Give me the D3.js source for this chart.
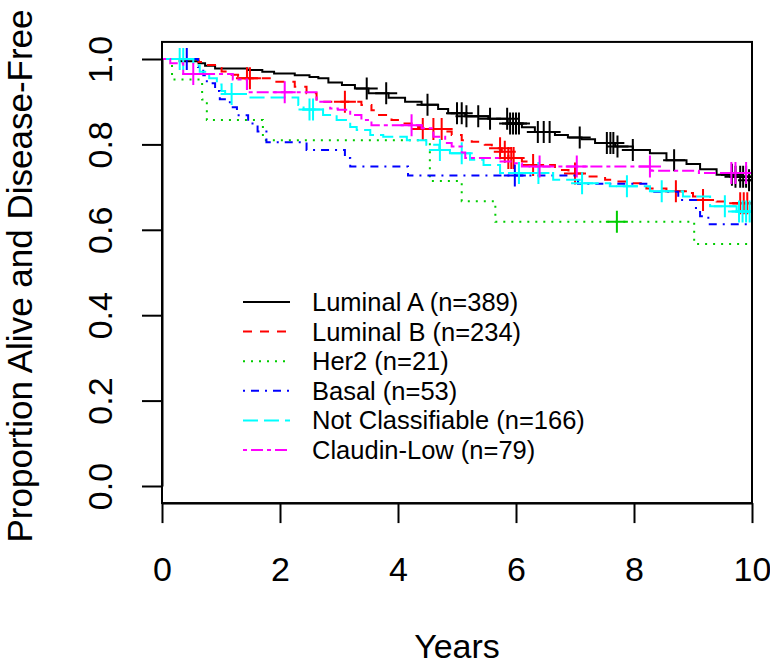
<!DOCTYPE html>
<html>
<head>
<meta charset="utf-8">
<script src="https://cdn.jsdelivr.net/npm/d3@7"></script>
<style>
  body { margin: 0; background: #fff; }
  svg { display: block; font-family: "Liberation Sans", Arial, sans-serif; }
</style>
</head>
<body>
<svg id="chart" width="770" height="666"></svg>
<script>
// tick labels
const xTicks = [0, 2, 4, 6, 8, 10];
const yTicks = [0, 0.2, 0.4, 0.6, 0.8, 1.0];

// legend
const groupNames = ["Luminal A (n=389)", "Luminal B (n=234)", "Her2 (n=21)",
                    "Basal (n=53)", "Not Classifiable (n=166)", "Claudin-Low (n=79)"];
const groupColors = ["#000000", "#FF0000", "#00CD00", "#0000FF", "#00FFFF", "#FF00FF"];
const groupDash = ["none", "9,8", "2,6", "2,6,8,6", "15,6", "4,4,12,4"];

// Kaplan-Meier steps: [years, proportion]
const lumA = [[0,1],[0.3,0.995],[0.62,0.99],[0.73,0.984],[0.9,0.978],[1.45,0.974],[1.7,0.97],
  [1.9,0.966],[2.25,0.962],[2.5,0.958],[2.65,0.955],[2.82,0.945],[3.05,0.939],[3.27,0.931],
  [3.5,0.92],[3.84,0.909],[4.12,0.9],[4.4,0.893],[4.68,0.883],[4.85,0.873],[5.14,0.866],
  [5.53,0.86],[5.86,0.849],[6.1,0.84],[6.32,0.829],[6.66,0.822],[6.88,0.816],[7.11,0.812],
  [7.34,0.803],[7.68,0.795],[7.98,0.787],[8.27,0.779],[8.55,0.763],[8.89,0.754],[9.12,0.742],
  [9.4,0.729],[9.68,0.724],[9.95,0.716]];
const lumB = [[0,1],[0.62,0.993],[0.78,0.986],[0.95,0.979],[1.01,0.971],[1.18,0.963],[1.29,0.959],
  [1.41,0.955],[1.86,0.947],[2.25,0.935],[2.45,0.92],[2.62,0.9],[3.38,0.892],[3.55,0.88],
  [3.61,0.869],[3.89,0.857],[4.06,0.849],[4.29,0.841],[4.4,0.836],[4.8,0.83],[4.91,0.822],
  [5.08,0.81],[5.25,0.806],[5.47,0.799],[5.59,0.791],[5.76,0.783],[5.87,0.768],[6.1,0.76],
  [6.27,0.752],[6.66,0.74],[6.89,0.732],[7.23,0.725],[7.51,0.717],[7.68,0.713],[7.88,0.709],
  [8.21,0.697],[8.55,0.69],[8.89,0.686],[9.0,0.678],[9.12,0.67],[9.4,0.666],[9.68,0.662]];
const her2 = [[0,1],[0.17,0.952],[0.68,0.905],[0.76,0.857],[1.71,0.81],[4.54,0.714],
  [5.08,0.667],[5.65,0.619],[9.02,0.567]];
const basal = [[0,1],[0.61,0.981],[0.7,0.962],[0.76,0.943],[0.9,0.925],[0.98,0.906],[1.15,0.887],
  [1.27,0.868],[1.46,0.849],[1.62,0.83],[1.77,0.805],[2.45,0.787],[3.1,0.768],[3.19,0.748],
  [4.17,0.727],[7.05,0.708],[8.27,0.689],[8.75,0.67],[9.05,0.651],[9.12,0.632],[9.26,0.613]];
const notClass = [[0,1],[0.53,0.985],[0.64,0.97],[0.8,0.955],[0.93,0.94],[1.01,0.925],[1.07,0.918],
  [1.5,0.91],[2.31,0.892],[2.4,0.882],[2.73,0.869],[2.96,0.857],[3.19,0.841],[3.3,0.834],
  [3.53,0.822],[3.75,0.818],[4.15,0.81],[4.48,0.799],[4.7,0.787],[4.88,0.779],[5.22,0.764],
  [5.45,0.752],[5.73,0.733],[6.63,0.717],[7.08,0.709],[7.59,0.702],[8.27,0.69],[8.83,0.678],
  [9.29,0.655],[9.74,0.643]];
const claudin = [[0,1],[0.14,0.99],[0.36,0.965],[1.2,0.952],[1.44,0.922],[2.62,0.9],[2.85,0.884],
  [2.98,0.881],[3.19,0.869],[3.38,0.857],[3.55,0.845],[4.4,0.838],[4.6,0.818],[4.8,0.803],
  [4.91,0.795],[5.08,0.781],[5.14,0.768],[5.7,0.76],[5.98,0.756],[6.1,0.748],[8.3,0.738],[9.1,0.733]];

// censoring times (years)
const lumACens = [3.47,3.8,4.5,5.0,5.08,5.16,5.36,5.56,5.85,5.9,5.95,6.0,6.05,6.37,6.47,6.57,
  7.08,7.54,7.6,7.65,7.72,7.98,8.68,9.66,9.72,9.8,9.85,9.9,9.95];
const lumBCens = [1.44,1.49,3.1,4.42,4.6,4.74,5.73,5.81,5.87,5.92,5.96,6.29,7.0,8.71,9.17,9.8,9.86,9.92];
const her2Cens = [7.71];
const basalCens = [0.42,5.98];
const notClassCens = [0.3,0.36,1.18,2.5,2.56,4.71,5.08,6.05,6.38,7.12,7.88,8.47,9.54,9.78,9.84,9.9,9.96];
const claudinCens = [0.53,2.08,4.23,6.4,7.03,8.27,9.65,9.72,9.9];

const curves = [lumA, lumB, her2, basal, notClass, claudin];
const censors = [lumACens, lumBCens, her2Cens, basalCens, notClassCens, claudinCens];

const svg = d3.select("#chart");
const x = d3.scaleLinear().domain([0, 10]).range([162, 752]);
const y = d3.scaleLinear().domain([0, 1]).range([486, 59]);

svg.append("defs").append("clipPath").attr("id", "plotclip")
  .append("rect")
  .attr("x", x(0)).attr("y", y(1.04))
  .attr("width", x(10) - x(0)).attr("height", y(-0.04) - y(1.04));

// step value at time t
function survAt(steps, t) {
  let v = steps[0][1];
  steps.forEach(d => { if (d[0] <= t) v = d[1]; });
  return v;
}

const line = d3.line()
  .x(d => x(d[0]))
  .y(d => y(d[1]))
  .curve(d3.curveStepAfter);

const plotArea = svg.append("g").attr("clip-path", "url(#plotclip)");

curves.forEach((steps, i) => {
  const pts = steps.concat([[10, steps[steps.length - 1][1]]]);
  plotArea.append("path")
    .attr("d", line(pts))
    .attr("fill", "none")
    .attr("stroke", groupColors[i])
    .attr("stroke-width", 2)
    .attr("stroke-dasharray", groupDash[i]);

  // censor marks "+"
  censors[i].forEach(t => {
    const cx = x(t), cy = y(survAt(steps, t));
    plotArea.append("path")
      .attr("d", `M${cx - 11},${cy}H${cx + 11}M${cx},${cy - 11}V${cy + 11}`)
      .attr("stroke", groupColors[i])
      .attr("stroke-width", 2)
      .attr("fill", "none");
  });
});

// box
svg.append("rect")
  .attr("x", x(0)).attr("y", y(1.04))
  .attr("width", x(10) - x(0)).attr("height", y(-0.04) - y(1.04))
  .attr("fill", "none").attr("stroke", "#000").attr("stroke-width", 2);

// axes
const xAxis = svg.append("g")
  .attr("transform", `translate(0,${y(-0.04)})`)
  .call(d3.axisBottom(x).tickValues(xTicks).tickSize(20).tickSizeOuter(0).tickPadding(34));
xAxis.selectAll("text")
  .attr("font-size", 34)
  .attr("font-family", "Liberation Sans, Arial, sans-serif")
  .attr("fill", "#000");

const yAxis = svg.append("g")
  .attr("transform", `translate(${x(0)},0)`)
  .call(d3.axisLeft(y).tickValues(yTicks).tickFormat(d3.format(".1f")).tickSize(20).tickSizeOuter(0));
yAxis.selectAll("text")
  .attr("font-size", 34)
  .attr("font-family", "Liberation Sans, Arial, sans-serif")
  .attr("fill", "#000")
  .attr("text-anchor", "middle")
  .attr("transform", "rotate(-90)")
  .attr("x", 0).attr("y", -50).attr("dy", null);

[xAxis, yAxis].forEach(g => {
  g.selectAll("line").attr("stroke", "#000").attr("stroke-width", 2);
  g.select(".domain").attr("stroke", "#000").attr("stroke-width", 2);
});

// axis titles
svg.append("text")
  .attr("x", (x(0) + x(10)) / 2).attr("y", 658)
  .attr("text-anchor", "middle")
  .attr("font-size", 34)
  .text("Years");

svg.append("text")
  .attr("transform", `translate(32,276) rotate(-90)`)
  .attr("text-anchor", "middle")
  .attr("font-size", 35)
  .text("Proportion Alive and Disease-Free");

// legend
const legend = svg.append("g");
groupNames.forEach((name, i) => {
  const ly = 302 + 29.6 * i;
  legend.append("line")
    .attr("x1", 243).attr("x2", 290).attr("y1", ly).attr("y2", ly)
    .attr("stroke", groupColors[i]).attr("stroke-width", 2)
    .attr("stroke-dasharray", groupDash[i]);
  legend.append("text")
    .attr("x", 312).attr("y", ly).attr("dy", "0.35em")
    .attr("font-size", 25.5)
    .text(name);
});
</script>
</body>
</html>
